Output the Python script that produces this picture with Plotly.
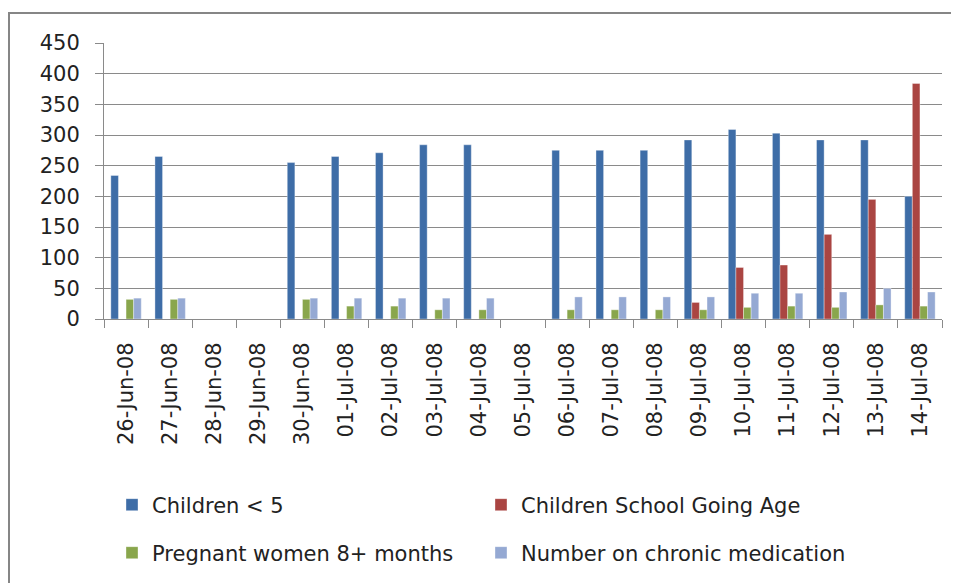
import plotly.graph_objects as go

dates = ["26-Jun-08", "27-Jun-08", "28-Jun-08", "29-Jun-08", "30-Jun-08",
         "01-Jul-08", "02-Jul-08", "03-Jul-08", "04-Jul-08", "05-Jul-08",
         "06-Jul-08", "07-Jul-08", "08-Jul-08", "09-Jul-08", "10-Jul-08",
         "11-Jul-08", "12-Jul-08", "13-Jul-08", "14-Jul-08"]
children_under5 = [234, 265, None, None, 255, 265, 271, 284, 284, None,
                   275, 275, 275, 292, 309, 303, 292, 292, 200]
children_school = [None, None, None, None, None, None, None, None, None, None,
                   None, None, None, 27, 84, 88, 138, 195, 384]
pregnant = [32, 32, None, None, 32, 21, 21, 15, 15, None,
            15, 15, 15, 15, 19, 21, 19, 23, 21]
chronic = [34, 34, None, None, 34, 34, 34, 34, 34, None,
           36, 36, 36, 36, 42, 42, 44, 50, 44]
y_ticks = [0, 50, 100, 150, 200, 250, 300, 350, 400, 450]

# the page body adds an 8px margin; work in page pixels and shift
OFF = 8
W, H = 959 - OFF, 583 - OFF
L, R, T, B = 104 - OFF, 942 - OFF, 43 - OFF, 320 - OFF


def px(x):
    return (x - OFF - L) / (R - L)


def py(y):
    return (B - (y - OFF)) / (B - T)


FONT = "DejaVu Sans"
TXT = "#222222"
GRID = "#8a8a8a"

fig = go.Figure()
series = [
    ("Children < 5", children_under5, "#3E6DA7", "legend"),
    ("Children School Going Age", children_school, "#AA4542", "legend"),
    ("Pregnant women 8+ months", pregnant, "#89A64C", "legend2"),
    ("Number on chronic medication", chronic, "#95A9D3", "legend2"),
]
for name, vals, col, lg in series:
    fig.add_trace(go.Bar(x=dates, y=vals, name=name, marker_color=col,
                         marker_line=dict(width=0.6, color="rgba(255,255,255,0.6)"),
                         legend=lg))

fig.update_layout(
    width=W, height=H,
    margin=dict(l=L, r=W - R, t=T, b=H - B),
    paper_bgcolor="white", plot_bgcolor="white",
    barmode="group", bargap=0.31, bargroupgap=0,
    font=dict(family=FONT, size=21, color=TXT),
    xaxis=dict(type="category", tickson="boundaries", ticks="outside", ticklen=8,
               tickcolor=GRID, showline=True, linecolor=GRID, linewidth=1,
               tickangle=-90, ticklabelstandoff=14, showgrid=False,
               tickfont=dict(family=FONT, size=21, color=TXT)),
    yaxis=dict(range=[0, 450], tickvals=y_ticks, ticks="outside", ticklen=8,
               tickcolor=GRID, showline=True, linecolor=GRID, linewidth=1,
               showgrid=True, gridcolor=GRID, gridwidth=1, zeroline=False,
               ticklabelstandoff=11,
               tickfont=dict(family=FONT, size=21, color=TXT)),
    legend=dict(orientation="h", x=px(112), xanchor="left", y=py(505), yanchor="middle",
                entrywidth=324, itemwidth=30, font=dict(family=FONT, size=21, color=TXT),
                bgcolor="rgba(0,0,0,0)", traceorder="normal"),
    legend2=dict(orientation="h", x=px(112), xanchor="left", y=py(553), yanchor="middle",
                 entrywidth=324, itemwidth=30, font=dict(family=FONT, size=21, color=TXT),
                 bgcolor="rgba(0,0,0,0)", traceorder="normal"),
    showlegend=True,
)

fig.add_shape(type="rect", xref="paper", yref="paper",
              x0=px(9), x1=px(975), y0=py(600), y1=py(13),
              line=dict(color="#868686", width=2), fillcolor="rgba(0,0,0,0)",
              layer="below")

fig.write_html("out.html")
